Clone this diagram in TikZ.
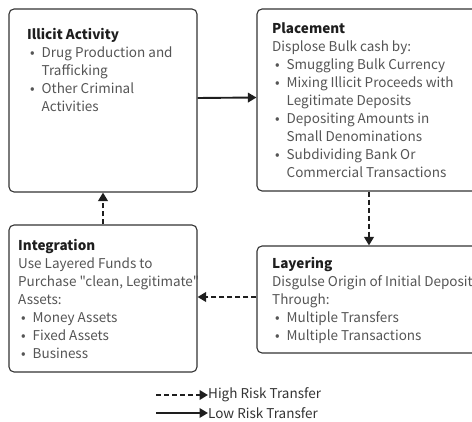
\documentclass[tikz,border=0pt]{standalone}
\usepackage{fontspec}
\setmainfont{Noto Sans CJK KR}[Ligatures=TeXOff]
\usetikzlibrary{arrows.meta}
\definecolor{bodyc}{HTML}{555555}
\definecolor{inkc}{HTML}{1E1E1E}
\definecolor{boxc}{HTML}{333333}
\newcommand{\bul}{\makebox[14.5pt][l]{\hspace{3pt}\textbullet}}
\newcommand{\cont}{\hspace{14.5pt}}
\newcommand{\ttl}[1]{{\color{inkc}\bfseries #1}}
\begin{document}
\begin{tikzpicture}[x=1pt,y=-1pt,
  box/.style={draw=boxc, line width=1.1pt, rounded corners=5pt, inner sep=0pt, fill=white},
  txt/.style={align=left, inner sep=0pt, text=bodyc, font=\fontsize{13.5}{18}\selectfont},
  lowarrow/.style={draw=inkc, line width=1.9pt, -{Triangle[length=8.5pt,width=9.5pt]}},
  higharrow/.style={draw=inkc, line width=2.5pt, dash pattern=on 5pt off 3pt, -{Triangle[length=8.5pt,width=9.5pt]}},
  legtxt/.style={inner sep=0pt, text=boxc, font=\fontsize{13.5}{18}\selectfont}]
\useasboundingbox (0,0) rectangle (472,422);

\node[box, minimum width=188pt, minimum height=183pt] (ill) at (103,100.5) {};
\node[box, minimum width=224pt, minimum height=182pt] (pla) at (369,100) {};
\node[box, minimum width=188pt, minimum height=147pt] (int) at (103,298.5) {};
\node[box, minimum width=224pt, minimum height=107pt] (lay) at (369,299.5) {};

% anchor base west = baseline of the LAST line
\node[txt, anchor=base west] (illt) at (27,112) {\ttl{Illicit Activity}\\
\bul Drug Production and\\ \cont Trafficking\\
\bul Other Criminal\\ \cont Activities};

\node[txt, anchor=base west] (plat) at (272,178) {\ttl{Placement}\\
Displose Bulk cash by:\\
\bul Smuggling Bulk Currency\\
\bul Mixing Illicit Proceeds with\\ \cont Legitimate Deposits\\
\bul Depositing Amounts in\\ \cont Small Denominations\\
\bul Subdividing Bank Or\\ \cont Commercial Transactions};

\node[txt, anchor=base west] (intt) at (18,359) {\ttl{Integration}\\
Use Layered Funds to\\
Purchase "clean, Legitimate"\\
Assets:\\
\bul Money Assets\\
\bul Fixed Assets\\
\bul Business};

\node[txt, anchor=base west] (layt) at (272,341) {\ttl{Layering}\\
Disgulse Origin of Initial Deposit\\
Through:\\
\bul Multiple Transfers\\
\bul Multiple Transactions};

\draw[lowarrow] ([yshift=2.5pt]ill.east) -- ([yshift=2.5pt]pla.west);
\draw[higharrow] (pla.south) -- (lay.north);
\draw[higharrow] ([yshift=2.5pt]lay.west) -- ([yshift=2.5pt]lay.west -| int.east);
\draw[higharrow] (int.north) -- (ill.south);

\node[legtxt, anchor=west] (hi) at (208,395) {High Risk Transfer};
\node[legtxt, anchor=west] (lo) at (208,413) {Low Risk Transfer};
\coordinate (his) at (156,395);
\coordinate (los) at (156,413);
\draw[higharrow] (his) -- (hi.west);
\draw[lowarrow] (los) -- (lo.west);
\end{tikzpicture}
\end{document}
